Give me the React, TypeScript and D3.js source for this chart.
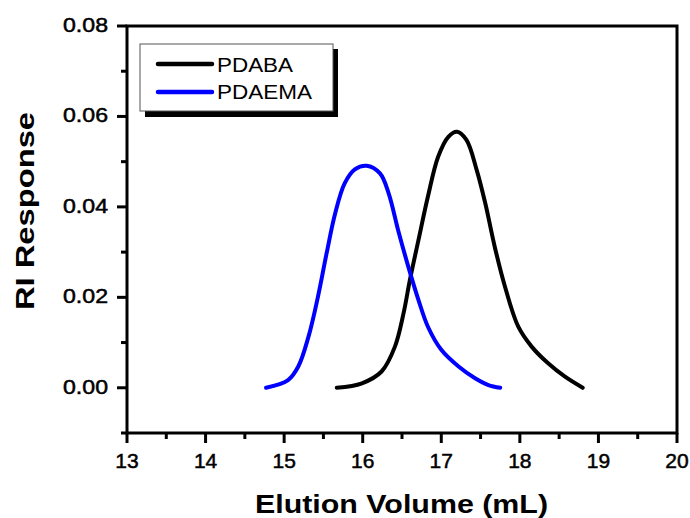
import React from "react";
import * as d3 from "d3";

const pdabaX = [15.67, 15.99, 16.24, 16.41, 16.52, 16.6, 16.71, 16.83, 16.96, 17.09, 17.2, 17.32, 17.45, 17.56, 17.68, 17.81, 17.98, 18.15, 18.36, 18.57, 18.8];
const pdabaY = [0.0, 0.001, 0.0036, 0.0091, 0.0165, 0.0238, 0.0327, 0.0423, 0.0511, 0.0555, 0.0566, 0.0548, 0.0482, 0.0408, 0.0312, 0.0224, 0.0135, 0.0091, 0.0054, 0.0025, 0.0];
const pdaemaX = [14.77, 15.05, 15.18, 15.31, 15.43, 15.54, 15.65, 15.77, 15.9, 16.05, 16.22, 16.33, 16.45, 16.58, 16.71, 16.83, 17.0, 17.22, 17.43, 17.6, 17.75];
const pdaemaY = [0.0, 0.0017, 0.0047, 0.0113, 0.0201, 0.0297, 0.0386, 0.0452, 0.0483, 0.0491, 0.0474, 0.043, 0.0349, 0.0268, 0.0194, 0.0135, 0.0084, 0.0047, 0.0021, 0.0006, 0.0];

const xMajor = [13, 14, 15, 16, 17, 18, 19, 20];
const xMinor = [13.5, 14.5, 15.5, 16.5, 17.5, 18.5, 19.5];
const yMajor = [0.0, 0.02, 0.04, 0.06, 0.08];
const yMinor = [-0.01, 0.01, 0.03, 0.05, 0.07];

const seriesNames = ["PDABA", "PDAEMA"];
const seriesColors = ["#000000", "#0000ff"];

const W = 690;
const H = 518;
const left = 127;
const right = 677;
const top = 26;
const bottom = 433;

export default function App() {
  const x = d3.scaleLinear().domain([13, 20]).range([left, right]);
  const y = d3.scaleLinear().domain([-0.01, 0.08]).range([bottom, top]);
  const line = d3
    .line<[number, number]>()
    .x((d) => x(d[0]))
    .y((d) => y(d[1]))
    .curve(d3.curveCatmullRom.alpha(0.5));
  const series = [
    pdabaX.map((v, i) => [v, pdabaY[i]] as [number, number]),
    pdaemaX.map((v, i) => [v, pdaemaY[i]] as [number, number]),
  ];
  const font = "'Liberation Sans', Arial, sans-serif";

  return (
    <svg
      width={W}
      height={H}
      style={{ position: "absolute", left: 0, top: 0, background: "#fff" }}
      fontFamily={font}
    >
      <rect x={0} y={0} width={W} height={H} fill="#fff" />
      {series.map((s, i) => (
        <path
          key={i}
          d={line(s) || ""}
          fill="none"
          stroke={seriesColors[i]}
          strokeWidth={4}
          strokeLinecap="round"
          strokeLinejoin="round"
        />
      ))}
      {/* frame */}
      <rect
        x={left}
        y={top}
        width={right - left}
        height={bottom - top}
        fill="none"
        stroke="#000"
        strokeWidth={3}
      />
      {/* x ticks */}
      {xMajor.map((v) => (
        <g key={"xm" + v}>
          <line x1={x(v)} x2={x(v)} y1={bottom} y2={bottom + 10} stroke="#000" strokeWidth={3} />
          <text x={x(v)} y={468} fontSize={21} textAnchor="middle" fill="#000" stroke="#000" strokeWidth={0.5}>
            {v}
          </text>
        </g>
      ))}
      {xMinor.map((v) => (
        <line key={"xn" + v} x1={x(v)} x2={x(v)} y1={bottom} y2={bottom + 6} stroke="#000" strokeWidth={3} />
      ))}
      {/* y ticks */}
      {yMajor.map((v) => (
        <g key={"ym" + v}>
          <line x1={left - 10} x2={left} y1={y(v)} y2={y(v)} stroke="#000" strokeWidth={3} />
          <text
            x={108}
            y={y(v) + 6}
            fontSize={20}
            textAnchor="end"
            fill="#000"
            stroke="#000"
            strokeWidth={0.5}
            textLength={45}
            lengthAdjust="spacingAndGlyphs"
          >
            {v.toFixed(2)}
          </text>
        </g>
      ))}
      {yMinor.map((v) => (
        <line key={"yn" + v} x1={left - 6} x2={left} y1={y(v)} y2={y(v)} stroke="#000" strokeWidth={3} />
      ))}
      {/* axis titles */}
      <text
        x={401.5}
        y={513}
        fontSize={26}
        fontWeight="bold"
        textAnchor="middle"
        textLength={293}
        lengthAdjust="spacingAndGlyphs"
      >
        Elution Volume (mL)
      </text>
      <text
        transform="translate(34,211) rotate(-90)"
        fontSize={26}
        fontWeight="bold"
        textAnchor="middle"
        textLength={198}
        lengthAdjust="spacingAndGlyphs"
      >
        RI Response
      </text>
      {/* legend */}
      <rect x={145} y={49} width={193} height={68} fill="#000" />
      <rect x={140} y={44} width={193} height={67} fill="#fff" stroke="#555" strokeWidth={1} />
      {seriesNames.map((n, i) => (
        <g key={n}>
          <line
            x1={158}
            x2={212}
            y1={64 + i * 28}
            y2={64 + i * 28}
            stroke={seriesColors[i]}
            strokeWidth={4.5}
            strokeLinecap="round"
          />
          <text
            x={217}
            y={71.5 + i * 27.5}
            fontSize={20}
            textLength={i === 0 ? 76 : 95}
            lengthAdjust="spacingAndGlyphs"
            fill="#000"
          >
            {n}
          </text>
        </g>
      ))}
    </svg>
  );
}
